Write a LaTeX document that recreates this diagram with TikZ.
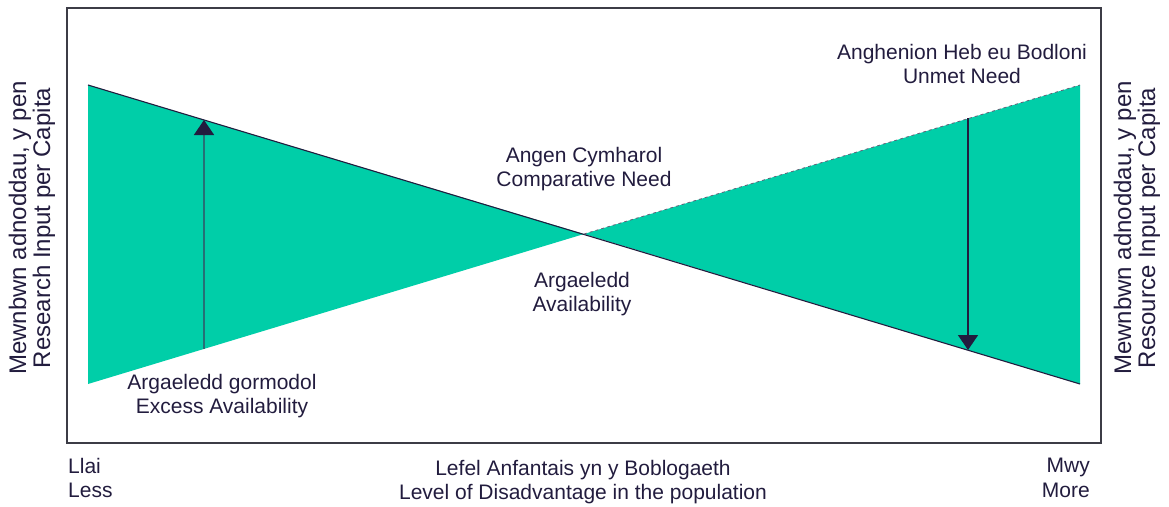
\documentclass[tikz,border=0pt]{standalone}
\usepackage{fontspec}
\setmainfont{Liberation Sans}
\usetikzlibrary{arrows.meta}
\definecolor{teal}{RGB}{0,206,168}
\definecolor{navy}{RGB}{34,28,62}
\definecolor{shaftc}{RGB}{38,112,118}
\definecolor{framec}{RGB}{60,60,70}
\tikzset{
  lbl/.style={text=navy, font=\fontsize{21}{24.5}\selectfont, align=center, inner sep=0pt},
  side/.style={text=navy, font=\fontsize{24}{24}\selectfont, align=center, inner sep=0pt, rotate=90},
  arr/.style={draw=navy, line width=1.6pt, -{Triangle[width=20pt,length=15pt,color=navy,fill=navy]}},
}
\begin{document}
\begin{tikzpicture}[x=1pt,y=-1pt]
\useasboundingbox (0,0) rectangle (1169,506);
% frame
\draw[framec, line width=1.5pt] (67,8) rectangle (1101,443);
% bow-tie fill
\coordinate (tl) at (88,85);
\coordinate (bl) at (88,384);
\coordinate (tr) at (1080,85);
\coordinate (br) at (1080,384);
\coordinate (c) at (584,234);
\fill[teal] (tl) -- (c) -- (bl) -- cycle;
\fill[teal] (tr) -- (c) -- (br) -- cycle;
\draw[navy, line width=1.1pt] (tl) -- (br);
\draw[navy!70, line width=0.8pt, dashed] (c) -- (tr);
% arrows
\coordinate (a1s) at (204,349);
\coordinate (a1e) at (204,120);
\coordinate (a2s) at (968,118);
\coordinate (a2e) at (968,350);
\draw[arr, draw=shaftc] (a1s) -- (a1e);
\draw[arr] (a2s) -- (a2e);
% labels
\node[lbl] (unmet) at (962,64) {Anghenion Heb eu Bodloni\\Unmet Need};
\node[lbl] (comp) at (584,169) {Angen Cymharol\\Comparative Need};
\node[lbl] (avail) at (582,294) {Argaeledd\\Availability};
\node[lbl] (excess) at (222,396) {Argaeledd gormodol\\Excess Availability};
\node[lbl, anchor=west, align=left] (less) at (68,478) {Llai\\Less};
\node[lbl] (level) at (583,482) {Lefel Anfantais yn y Boblogaeth\\Level of Disadvantage in the population};
\node[lbl, anchor=east, align=right] (more) at (1090,478) {Mwy\\More};
\node[side] (yl) at (32,228) {Mewnbwn adnoddau, y pen\\Research Input per Capita};
\node[side] (yr) at (1137,228) {Mewnbwn adnoddau, y pen\\Resource Input per Capita};
\end{tikzpicture}
\end{document}
